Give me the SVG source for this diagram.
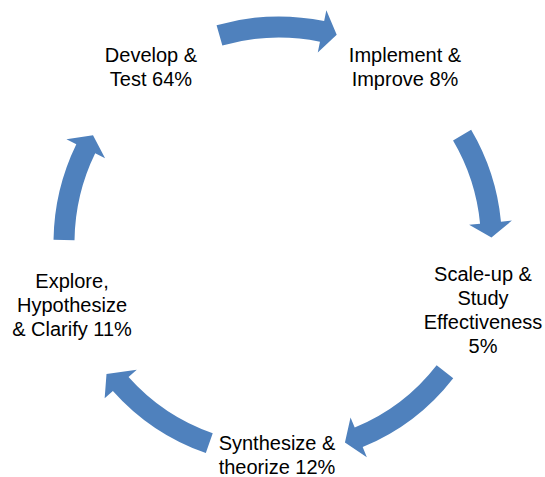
<svg xmlns="http://www.w3.org/2000/svg" width="545" height="477" viewBox="0 0 545 477">
<style>
.arrow{fill:#4F81BD;stroke:none}
.lbl{font-family:"Liberation Sans",Arial,sans-serif;font-size:20px;fill:#000;text-anchor:middle}
</style>
<rect width="545" height="477" fill="#fff"/>
<g id="connectors">
<path class="arrow" d="M216.57,25.27 A226.5,226.5 0 0 1 324.16,21.05 L326.35,10.27 L336.72,34.86 L317.78,52.40 L319.97,41.63 A205.5,205.5 0 0 0 222.36,45.46 Z"/>
<path class="arrow" d="M471.14,129.82 A223,223 0 0 1 500.97,221.63 L511.92,220.57 L491.43,237.44 L469.12,224.69 L480.07,223.64 A202,202 0 0 0 453.05,140.48 Z"/>
<path class="arrow" d="M453.23,378.15 A220.5,220.5 0 0 1 362.67,447.01 L366.84,457.18 L344.94,442.38 L350.53,417.40 L354.70,427.58 A199.5,199.5 0 0 0 436.64,365.28 Z"/>
<path class="arrow" d="M205.83,453.12 A222.5,222.5 0 0 1 112.87,391.01 L104.66,398.33 L106.5,374 L136.77,369.73 L128.55,377.04 A201.5,201.5 0 0 0 212.73,433.29 Z"/>
<path class="arrow" d="M53.52,239.85 A225.5,225.5 0 0 1 76.32,144.15 L66.44,139.33 L93.01,135.14 L105.08,158.18 L95.20,153.35 A204.5,204.5 0 0 0 74.52,240.14 Z"/>
</g>
<g id="node-develop"><text class="lbl" x="151" y="62">Develop &amp;</text><text class="lbl" x="151" y="86">Test 64%</text></g>
<g id="node-implement"><text class="lbl" x="405" y="62">Implement &amp;</text><text class="lbl" x="405" y="86">Improve 8%</text></g>
<g id="node-scale"><text class="lbl" x="483" y="281">Scale-up &amp;</text><text class="lbl" x="483" y="305">Study</text><text class="lbl" x="483" y="329">Effectiveness</text><text class="lbl" x="483" y="353">5%</text></g>
<g id="node-synthesize"><text class="lbl" x="277" y="450">Synthesize &amp;</text><text class="lbl" x="277" y="474">theorize 12%</text></g>
<g id="node-explore"><text class="lbl" x="72" y="288">Explore, </text><text class="lbl" x="72" y="312">Hypothesize</text><text class="lbl" x="72" y="336">&amp; Clarify 11%</text></g>
</svg>
